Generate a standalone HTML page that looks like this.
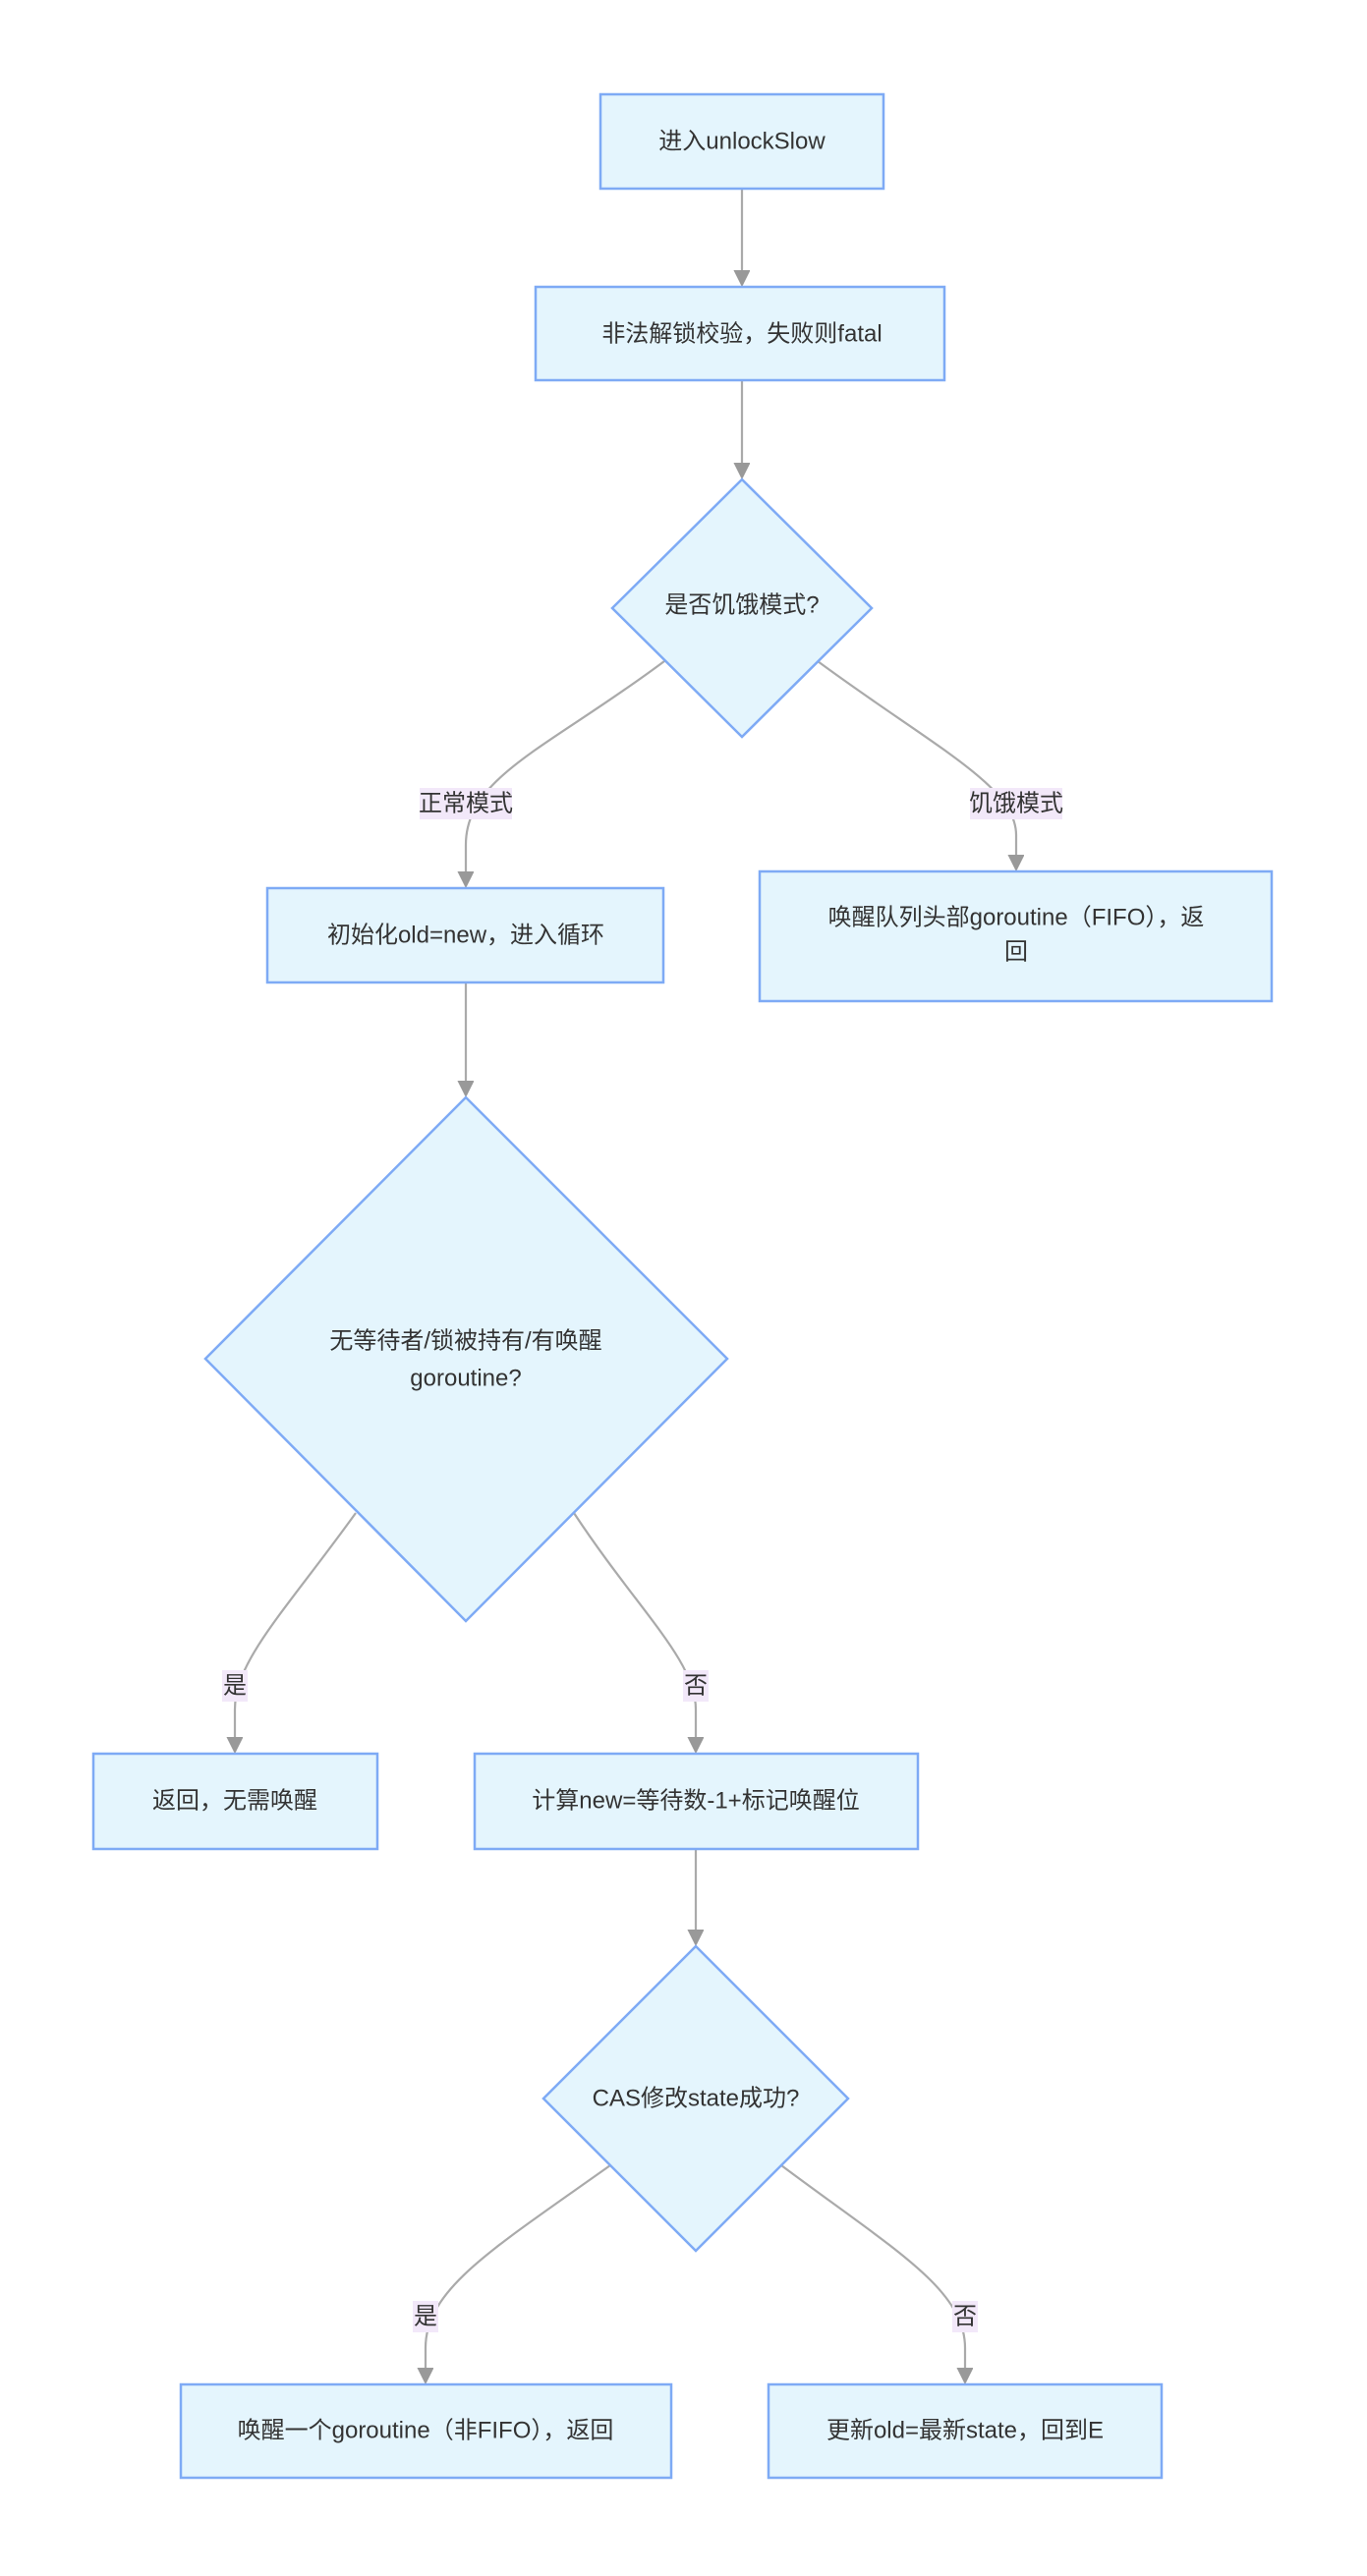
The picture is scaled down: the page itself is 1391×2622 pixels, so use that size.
<!DOCTYPE html>
<html><head><meta charset="utf-8"><style>
html,body{margin:0;padding:0;background:#fff;}
svg{display:block;}
text{font-family:"Liberation Sans","Noto Sans CJK SC",sans-serif;font-size:24px;fill:#333;text-anchor:middle;dominant-baseline:central;}
.n{fill:#e4f5fd;stroke:#7eaaf5;stroke-width:2.5;}
.e{fill:none;stroke:#aaaaaa;stroke-width:2.2;}
.lb{fill:#f2e8f9;}
</style></head><body>
<svg width="1391" height="2622" viewBox="0 0 1391 2622" xmlns="http://www.w3.org/2000/svg">
<defs>
<marker id="a" markerUnits="userSpaceOnUse" markerWidth="18" markerHeight="18" refX="15" refY="8" orient="auto">
<path d="M0,0 L16,8 L0,16 z" fill="#999" stroke="#999" stroke-width="1"/>
</marker>
</defs>
<!-- edges -->
<path class="e" d="M755 192 L755 290" marker-end="url(#a)"/>
<path class="e" d="M755 387 L755 486" marker-end="url(#a)"/>
<path class="e" d="M676 673 C560 760 474 790 474 860 L474 902" marker-end="url(#a)"/>
<path class="e" d="M832 673 C950 760 1034 800 1034 850 L1034 885" marker-end="url(#a)"/>
<path class="e" d="M474 1000 L474 1115" marker-end="url(#a)"/>
<path class="e" d="M362 1540 C290 1640 239 1690 239 1740 L239 1783" marker-end="url(#a)"/>
<path class="e" d="M584 1540 C650 1640 708 1690 708 1740 L708 1783" marker-end="url(#a)"/>
<path class="e" d="M708 1882 L708 1979" marker-end="url(#a)"/>
<path class="e" d="M621 2204 C500 2290 433 2330 433 2390 L433 2425" marker-end="url(#a)"/>
<path class="e" d="M795 2204 C910 2290 982 2330 982 2390 L982 2425" marker-end="url(#a)"/>
<!-- nodes -->
<rect class="n" x="611" y="96" width="288" height="96"/>
<text x="755" y="144">进入unlockSlow</text>
<rect class="n" x="545" y="292" width="416" height="95"/>
<text x="755" y="340">非法解锁校验，失败则fatal</text>
<polygon class="n" points="755,488 887,619 755,750 623,619"/>
<text x="755" y="616">是否饥饿模式?</text>
<rect class="lb" x="427" y="802" width="94" height="32"/>
<text x="474" y="818">正常模式</text>
<rect class="lb" x="987" y="802" width="94" height="32"/>
<text x="1034" y="818">饥饿模式</text>
<rect class="n" x="272" y="904" width="403" height="96"/>
<text x="474" y="952">初始化old=new，进入循环</text>
<rect class="n" x="773" y="887" width="521" height="132"/>
<text x="1034" y="934">唤醒队列头部goroutine（FIFO），返</text>
<text x="1034" y="969">回</text>
<polygon class="n" points="474,1117 740,1383 474,1650 209,1383"/>
<text x="474" y="1365">无等待者/锁被持有/有唤醒</text>
<text x="474" y="1403">goroutine?</text>
<rect class="lb" x="226" y="1700" width="26" height="32"/>
<text x="239" y="1716">是</text>
<rect class="lb" x="695" y="1700" width="26" height="32"/>
<text x="708" y="1716">否</text>
<rect class="n" x="95" y="1785" width="289" height="97"/>
<text x="239" y="1833">返回，无需唤醒</text>
<rect class="n" x="483" y="1785" width="451" height="97"/>
<text x="708" y="1833">计算new=等待数-1+标记唤醒位</text>
<polygon class="n" points="708,1981 863,2136 708,2291 553,2136"/>
<text x="708" y="2136">CAS修改state成功?</text>
<rect class="lb" x="420" y="2342" width="26" height="32"/>
<text x="433" y="2358">是</text>
<rect class="lb" x="969" y="2342" width="26" height="32"/>
<text x="982" y="2358">否</text>
<rect class="n" x="184" y="2427" width="499" height="95"/>
<text x="433" y="2474">唤醒一个goroutine（非FIFO），返回</text>
<rect class="n" x="782" y="2427" width="400" height="95"/>
<text x="982" y="2474">更新old=最新state，回到E</text>
</svg>
</body></html>
